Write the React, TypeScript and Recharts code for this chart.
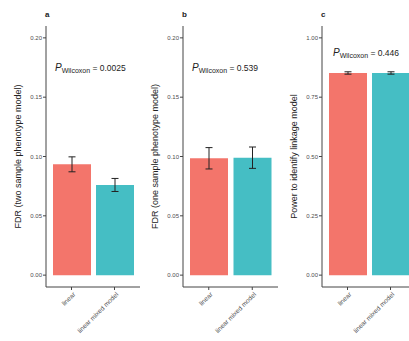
import React from "react";
import { BarChart, Bar, XAxis, YAxis, ErrorBar, Cell } from "recharts";

const categories = ["linear", "linear mixed model"];
const colors = ["#F3756B", "#45BEC4"];

const fdrTwoValues = [0.0934, 0.076];
const fdrTwoErrors = [0.0063, 0.0055];
const fdrOneValues = [0.0985, 0.099];
const fdrOneErrors = [0.009, 0.009];
const powerValues = [0.852, 0.852];
const powerErrors = [0.005, 0.005];

const fdrTicks = [0, 0.05, 0.1, 0.15, 0.2];
const powerTicks = [0, 0.25, 0.5, 0.75, 1];

const panelLetters = ["a", "b", "c"];
const pValues = ["0.0025", "0.539", "0.446"];
const yTitles = [
  "FDR (two sample phenotype model)",
  "FDR (one sample phenotype model)",
  "Power to identify linkage model",
];

const FONT = "'Liberation Sans', Arial, sans-serif";

function XTick(props: any) {
  const { x, y, payload } = props;
  return (
    <g transform={`translate(${x},${y})`}>
      <text
        x={0}
        y={0}
        dy={5}
        dx={1}
        textAnchor="end"
        transform="rotate(-45)"
        fontSize={6.5}
        fill="#4d4d4d"
        fontFamily={FONT}
      >
        {payload.value}
      </text>
    </g>
  );
}

type PanelProps = {
  left: number;
  width: number;
  values: number[];
  errors: number[];
  ticks: number[];
  domain: [number, number];
  title: string;
  letter: string;
  pValue: string;
  pLeft: number;
  pTop: number;
};

function Panel(props: PanelProps) {
  const data = categories.map((c, i) => ({
    name: c,
    value: props.values[i],
    err: props.errors[i],
  }));
  return (
    <div style={{ position: "absolute", left: props.left, top: 0, width: props.width, height: 341 }}>
      <BarChart
        width={props.width}
        height={341}
        data={data}
        margin={{ top: 26, right: 0, bottom: 0, left: 0 }}
        barSize={38}
      >
        <XAxis
          dataKey="name"
          height={54}
          interval={0}
          padding={{ left: 4, right: 4 }}
          axisLine={{ stroke: "#444", strokeWidth: 1 }}
          tickLine={{ stroke: "#444" }}
          tickSize={3}
          tick={<XTick />}
        />
        <YAxis
          width={46}
          type="number"
          domain={props.domain}
          ticks={props.ticks}
          allowDataOverflow
          tickFormatter={(v: number) => v.toFixed(2)}
          axisLine={{ stroke: "#444", strokeWidth: 1 }}
          tickLine={{ stroke: "#444" }}
          tickSize={3}
          tickMargin={1}
          tick={{ fontSize: 6, fill: "#4d4d4d", fontFamily: FONT }}
          label={{
            value: props.title,
            angle: -90,
            position: "center",
            dx: -5,
            style: { fontSize: 9, fill: "#222", fontFamily: FONT },
          }}
        />
        <Bar dataKey="value" isAnimationActive={false}>
          {data.map((d, i) => (
            <Cell key={d.name} fill={colors[i]} />
          ))}
          <ErrorBar dataKey="err" width={3.5} stroke="#222" strokeWidth={1} />
        </Bar>
      </BarChart>
      <div
        style={{
          position: "absolute",
          left: 45,
          top: 10,
          fontFamily: FONT,
          fontWeight: "bold",
          fontSize: 8,
          color: "#222",
        }}
      >
        {props.letter}
      </div>
      <div
        style={{
          position: "absolute",
          left: props.pLeft,
          top: props.pTop,
          fontFamily: FONT,
          color: "#222",
          whiteSpace: "nowrap",
          lineHeight: 1,
        }}
      >
        <span style={{ fontStyle: "italic", fontSize: 10 }}>P</span>
        <span style={{ fontSize: 7, verticalAlign: -2 }}>Wilcoxon</span>
        <span style={{ fontSize: 8.5 }}> = {props.pValue}</span>
      </div>
    </div>
  );
}

export default function App() {
  return (
    <div
      style={{
        position: "absolute",
        left: 0,
        top: 0,
        width: 409,
        height: 341,
        overflow: "hidden",
        background: "#fff",
      }}
    >
      <Panel
        left={0}
        width={140}
        values={fdrTwoValues}
        errors={fdrTwoErrors}
        ticks={fdrTicks}
        domain={[-0.01, 0.21]}
        title={yTitles[0]}
        letter={panelLetters[0]}
        pValue={pValues[0]}
        pLeft={55}
        pTop={58}
      />
      <Panel
        left={137}
        width={141}
        values={fdrOneValues}
        errors={fdrOneErrors}
        ticks={fdrTicks}
        domain={[-0.01, 0.21]}
        title={yTitles[1]}
        letter={panelLetters[1]}
        pValue={pValues[1]}
        pLeft={55}
        pTop={58}
      />
      <Panel
        left={276}
        width={140}
        values={powerValues}
        errors={powerErrors}
        ticks={powerTicks}
        domain={[-0.05, 1.05]}
        title={yTitles[2]}
        letter={panelLetters[2]}
        pValue={pValues[2]}
        pLeft={57}
        pTop={43}
      />
    </div>
  );
}
